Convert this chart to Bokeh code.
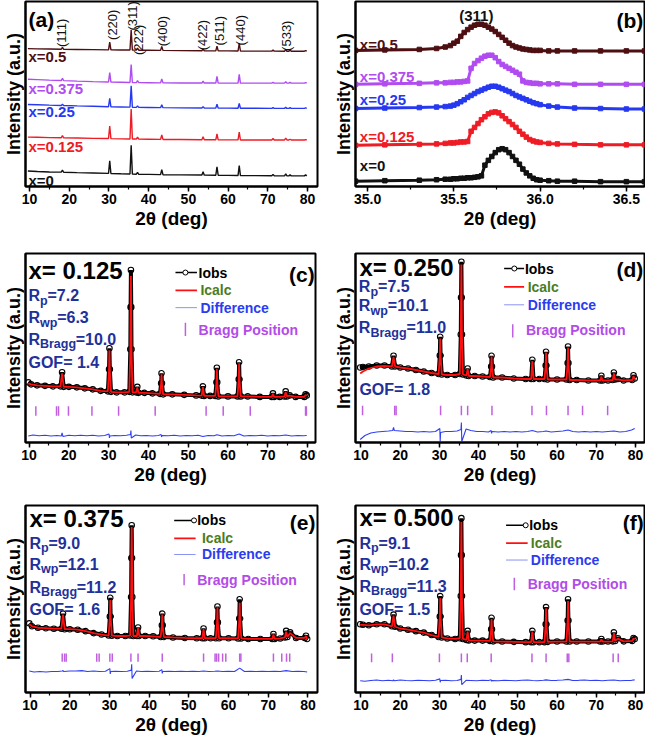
from bokeh.plotting import figure
from bokeh.layouts import column, row
from bokeh.models import SingleIntervalTicker, FixedTicker, Range1d, PrintfTickFormatter
from bokeh.core.properties import value
from bokeh.embed import file_html
from bokeh.resources import INLINE

FONT = "Liberation Sans"

# ---------------- panel (a): stacked XRD patterns ----------------
xa_deg = [9.6, 12, 15, 18.0, 18.3, 18.6, 22, 26, 29.9, 30.2, 30.5, 33, 35.3, 35.6, 35.9,
          36.9, 37.2, 37.5, 40, 43.0, 43.3, 43.6, 48, 53.4, 53.7, 54.0, 56.9, 57.2, 57.5,
          60, 62.5, 62.8, 63.1, 67, 71.0, 71.3, 71.6, 74.2, 74.5, 74.8, 75.3, 75.6, 75.9,
          79.2, 79.5, 79.8]
a_x0 = [16, 15.5, 15, 14.8, 16.8, 14.7, 14.3, 13.9, 13.5, 26.5, 13.4, 13.1, 12.9, 42.5, 12.8,
        12.7, 14.5, 12.6, 12.5, 12.3, 17.5, 12.2, 12, 11.8, 15.3, 11.7, 11.6, 20.2, 11.6,
        11.5, 11.4, 21.5, 11.3, 11.2, 11.1, 12.5, 11.1, 11, 13, 11, 11, 12, 11,
        11, 12, 11]
a_x125 = [51, 50.8, 50.5, 50.3, 52.5, 50.2, 50, 49.7, 49.5, 62.5, 49.4, 49.2, 49.1, 80, 49,
          49, 51, 48.9, 48.8, 48.7, 53.2, 48.6, 48.5, 48.3, 51.3, 48.3, 48.2, 54.2, 48.2,
          48.1, 48.1, 56.1, 48, 48, 48, 49.5, 48, 48, 50, 48, 48, 48.8, 48,
          48, 48.5, 48]
a_x25 = [84.7, 84.4, 84, 83.7, 84.8, 83.6, 83.2, 82.8, 82.4, 90.9, 82.3, 82.1, 81.9, 103.9, 81.8,
         81.7, 83.2, 81.7, 81.6, 81.4, 84.4, 81.4, 81.2, 81, 82.5, 81, 80.9, 84.9, 80.9,
         80.9, 80.8, 85.8, 80.8, 80.8, 80.7, 81.5, 80.7, 80.7, 81.7, 80.7, 80.7, 81.3, 80.7,
         80.7, 81.2, 80.7]
a_x375 = [110.7, 110.3, 109.8, 109.4, 111.6, 109.3, 108.8, 108.3, 107.9, 117.5, 107.8, 107.6, 107.4, 125.8, 107.3,
          107.2, 109.2, 107.2, 107.1, 107, 111, 107, 106.9, 106.8, 108.8, 106.8, 106.8, 113.6, 106.8,
          106.7, 106.7, 115.7, 106.7, 106.7, 106.7, 107.7, 106.7, 106.7, 108.2, 106.7, 106.7, 107.5, 106.7,
          106.7, 107.3, 106.7]
a_x5 = [142.3, 142.1, 141.9, 141.7, 143.7, 141.6, 141.5, 141.3, 141.1, 149, 141.1, 141, 140.9, 161.5, 140.8,
        140.8, 142.8, 140.7, 140.6, 140.5, 144.5, 140.5, 140.3, 140.1, 142.1, 140.1, 140, 145, 140,
        140, 139.9, 147.9, 139.9, 139.8, 139.8, 140.8, 139.8, 139.7, 141.2, 139.7, 139.7, 140.5, 139.7,
        139.7, 140.3, 139.7]
series_names = ["x=0", "x=0.125", "x=0.25", "x=0.375", "x=0.5"]
series_colors = ["#111111", "#ee1c25", "#2639f0", "#b04cf0", "#4d0f12"]
hkl_labels = ["(111)", "(220)", "(311)", "(222)", "(400)", "(422)", "(511)", "(440)", "(533)"]
hkl_deg = [18.1, 31.0, 35.9, 37.4, 43.6, 53.6, 57.8, 63.0, 74.8]

# ---------------- panel (b): (311) peak zoom ----------------
xb_deg = [34.93, 35.1, 35.3, 35.4, 35.45, 35.48, 35.5, 35.52, 35.54, 35.56, 35.58, 35.60, 35.62,
          35.64, 35.66, 35.68, 35.70, 35.72, 35.74, 35.76, 35.78, 35.80, 35.82, 35.84, 35.86,
          35.88, 35.90, 35.92, 35.94, 35.96, 35.98, 36.0, 36.05, 36.1, 36.2, 36.35, 36.5, 36.605]
b_x0 = [5.5, 6, 6.5, 7, 7.5, 7.5, 8, 8, 8.5, 8.5, 9, 9, 9.5,
        10, 11, 22, 27, 31, 35, 38, 39, 38, 35, 31, 27,
        23, 18, 14, 11, 8.5, 7, 6.5, 6, 5.5, 5.5, 5, 5, 5]
b_x125 = [42.5, 43, 43.5, 44, 44.5, 45, 45, 45.5, 46, 46, 46.5, 57, 61,
          65, 69, 72, 75, 76.5, 77, 76, 73, 70, 67, 64, 61,
          57, 54, 51, 48.5, 47, 46, 45.5, 44.5, 44, 43.5, 43, 43, 43]
b_x25 = [80.5, 81, 81.5, 82, 82.5, 83, 84, 85.5, 87.5, 89.5, 92, 94, 96,
         98, 99.5, 101, 102.5, 103.5, 103.5, 102.5, 101, 99.5, 98, 96, 94,
         92.5, 91, 89.5, 88, 86.5, 85.5, 84.5, 83, 82, 81, 80.5, 80, 80]
b_x375 = [105.5, 106, 106.5, 107, 107, 107.5, 107.5, 108, 108, 108.5, 109, 122, 127,
          130, 132.5, 134.5, 135.5, 135.5, 133, 129, 126, 124, 122, 120, 118,
          116, 109, 107.5, 107, 106.5, 106.5, 106, 106, 106, 105.5, 105.5, 105.5, 105.5]
b_x5 = [140.5, 141, 141.5, 142.5, 144, 145.5, 148, 150, 155, 159, 162, 164.5, 166.5,
        167.5, 167.5, 166.5, 164.5, 162.5, 160, 157, 154, 151, 148, 145.5, 144,
        143, 142, 141.5, 141, 140.5, 140.5, 140.5, 140, 140, 140, 140, 140, 140]

# ---------------- panels (c)-(f): Rietveld refinements ----------------
xr_deg = [9.8, 10.5, 12, 14, 16,
          17.9, 18.3, 18.7, 20, 22, 24, 26, 28,
          29.8, 30.1, 30.2, 30.3, 30.6, 32, 34,
          35.2, 35.45, 35.52, 35.6, 35.68, 35.75, 36.0,
          36.9, 37.2, 37.5, 39, 41,
          42.9, 43.2, 43.3, 43.4, 43.7, 46, 49, 52,
          53.4, 53.7, 54.0, 55.5,
          56.8, 57.1, 57.2, 57.3, 57.6, 60,
          62.4, 62.7, 62.8, 62.9, 63.2, 65, 68,
          71.0, 71.3, 71.6, 73,
          74.2, 74.5, 74.8, 75.5, 77,
          79.2, 79.5, 79.8]
c_obs = [60, 58, 57, 56.5, 56,
         56, 70, 55.5, 55.5, 55, 54, 53, 51.5,
         51, 73, 94, 73, 50.5, 50, 50,
         50.5, 93, 135, 172, 135, 93, 50,
         50, 55.5, 49.5, 49.5, 49,
         48.5, 59, 69, 59, 48, 48, 47.5, 47,
         46.8, 56, 46.5, 46.5,
         46.5, 60, 74.5, 60, 46, 46,
         46, 63, 80, 63, 46, 46, 45.5,
         45.5, 49, 45.5, 45.5,
         46, 51, 46, 47, 45.5,
         45.5, 48, 47]
c_calc = [59, 58, 57, 56.5, 56,
          56, 69, 55.5, 55.5, 55, 54, 53, 51.5,
          51, 72, 92, 72, 50.5, 50, 50,
          50.5, 91, 131, 166, 131, 91, 50,
          50, 55, 49.5, 49.5, 49,
          48.5, 58.5, 68, 58.5, 48, 48, 47.5, 47,
          46.8, 55.5, 46.5, 46.5,
          46.5, 59.5, 73.5, 59.5, 46, 46,
          46, 62.5, 79, 62.5, 46, 46, 45.5,
          45.5, 48.5, 45.5, 45.5,
          46, 50.5, 46, 46.8, 45.5,
          45.5, 47.5, 46.5]
d_obs = [75, 75.5, 76, 77, 77,
         76, 86.7, 76, 75, 74, 72.5, 71, 69.5,
         68.5, 87, 105.7, 87, 68, 67.5, 67.5,
         68.5, 108, 145, 180.7, 145, 108, 68,
         67, 74, 66.5, 66.5, 66,
         65.5, 76, 86.7, 76, 65, 65, 64, 63.5,
         63.5, 82.7, 63.5, 63.5,
         63.5, 77, 90.7, 77, 63, 63,
         63, 79.5, 96, 79.5, 62.5, 62.5, 62,
         62, 66.7, 62, 62,
         62.5, 70, 63, 63.5, 62,
         62.5, 67.3, 64]
d_calc = [69, 71, 74, 76, 76.5,
          76, 85.5, 76, 75, 74, 72.5, 71, 69.5,
          68.5, 86, 104, 86, 68, 67.5, 67.5,
          68.5, 107, 143, 178, 143, 107, 68,
          67, 73.5, 66.5, 66.5, 66,
          65.5, 75.5, 86, 75.5, 65, 65, 64, 63.5,
          63.5, 81.5, 63.5, 63.5,
          63.5, 76.5, 90, 76.5, 63, 63,
          63, 79, 95, 79, 62.5, 62.5, 62,
          62, 66, 62, 62,
          62.5, 69, 63, 63.2, 62,
          62.5, 66.5, 63.5]
e_obs = [71, 68, 66.5, 66, 65.5,
         65.5, 81, 65, 65, 64.5, 63, 61, 59.5,
         58.5, 78, 97.3, 78, 58.3, 58, 58,
         58.5, 98, 138, 171.7, 138, 98, 58,
         58, 66.7, 58, 58, 57.7,
         57, 69, 81, 69, 57, 56.5, 56, 55.7,
         55.7, 65.7, 55.7, 55.7,
         55.7, 72, 88.3, 72, 55.7, 55.7,
         55.5, 76, 95.7, 76, 55.5, 55, 55,
         55, 60, 55, 55.5,
         56.5, 63.3, 57, 61.7, 56,
         56, 58.3, 55]
e_calc = [70, 68, 66.5, 66, 65.5,
          65.5, 80, 65, 65, 64.5, 63, 61, 59.5,
          58.5, 77, 95, 77, 58.3, 58, 58,
          58.5, 97, 137, 170, 137, 97, 58,
          58, 66, 58, 58, 57.7,
          57, 68.5, 80, 68.5, 57, 56.5, 56, 55.7,
          55.7, 65, 55.7, 55.7,
          55.7, 71.5, 87.5, 71.5, 55.7, 55.7,
          55.5, 75, 92, 75, 55.5, 55, 55,
          55, 59.5, 55, 55.5,
          56.5, 62.5, 57, 61, 56,
          56, 58, 55]
f_obs = [70, 69.5, 69, 70, 70,
         68, 80, 67.5, 65.7, 64.5, 63, 61.5, 59,
         57, 78, 99, 78, 56.5, 55.5, 55,
         55.7, 99, 141, 179, 141, 99, 55,
         54, 63.3, 53.5, 53.3, 53.3,
         53, 65, 76.7, 65, 52.5, 52.3, 52, 51.7,
         51.7, 63.3, 51.7, 51.7,
         51.7, 70, 87.7, 70, 52, 52.3,
         52.3, 74, 95.7, 74, 52.3, 52.3, 52.3,
         52.3, 55, 52.3, 52.3,
         52.5, 61.7, 53, 55.7, 52.5,
         53, 56, 55]
f_calc = [69.5, 69.5, 69, 70, 70,
          68, 79, 67.5, 65.7, 64.5, 63, 61.5, 59,
          57, 77, 97, 77, 56.5, 55.5, 55,
          55.7, 98, 139, 175, 139, 98, 55,
          54, 62.5, 53.5, 53.3, 53.3,
          53, 64.5, 75.5, 64.5, 52.5, 52.3, 52, 51.7,
          51.7, 62.5, 51.7, 51.7,
          51.7, 69.5, 86.5, 69.5, 52, 52.3,
          52.3, 73.5, 94, 73.5, 52.3, 52.3, 52.3,
          52.3, 54.5, 52.3, 52.3,
          52.5, 61, 53, 55.3, 52.5,
          53, 55.5, 54.5]

xd_deg = [9.8, 11, 12.5, 14, 15.5, 17, 18.1, 18.3, 18.5, 20,
          21.5, 23, 24.5, 26, 27.5, 29, 30.1, 30.2, 30.3, 31.5,
          33, 34.5, 35.5, 35.6, 35.7, 36.8, 38, 39.5, 41, 42.5,
          43.2, 43.3, 43.4, 45, 46.5, 48, 49.5, 51, 52.5, 53.7,
          55, 56.5, 57.2, 58.5, 60, 61.5, 62.8, 64, 65.5, 67,
          68.5, 70, 71.5, 73, 74.5, 76, 77.5, 79, 79.8]
c_diff = [6.5, 7.5, 6.8, 7.2, 6.5, 7, 6.5, 9.5, 6, 7.2,
          6.8, 7.3, 6.8, 7.2, 6.5, 7, 8.5, 4.5, 6.5, 7,
          6.8, 7.2, 8, 12, 4.5, 7.5, 6.8, 7, 6.5, 7,
          8, 5.5, 7, 6.8, 7.2, 6.5, 7, 6.8, 7.2, 6,
          7, 6.8, 7.8, 6.5, 7, 6.8, 8.5, 6.5, 7, 6.8,
          7.2, 6.5, 7, 6.8, 7.5, 6.5, 7, 6.8, 7]
d_diff = [3, 7, 9.5, 10.5, 11, 11.5, 12, 15, 12, 11.5,
          11, 11, 10.5, 11, 10.5, 11, 14, 1, 10, 11,
          11, 11.5, 13, 20, 1, 13.5, 12, 11, 11, 10.5,
          12, 9, 11, 10.5, 11, 10.5, 11, 10.5, 11, 12,
          10.5, 11, 11.5, 10.5, 11, 11.5, 12.5, 11, 10.5, 11,
          10.5, 11, 10.5, 11, 11.5, 10.5, 11, 12.5, 14]
e_diff = [22, 21, 21.5, 21, 21.5, 21.5, 22, 22.5, 21.5, 22,
          22, 22.5, 21.5, 22, 21.5, 21.8, 24.5, 19, 21.5, 21.8,
          21.5, 21.8, 23, 29, 14.5, 22, 21.5, 21.8, 21.5, 21.8,
          23.5, 19.5, 21.5, 21.8, 21.5, 21.8, 21.5, 21.8, 21.5, 22,
          21.5, 21.8, 22, 21.5, 21.8, 21.5, 25, 21.5, 21.8, 21.5,
          21.8, 21.5, 21.8, 21.5, 22.5, 21.5, 21.8, 21.5, 21]
f_diff = [12, 11.5, 12.3, 12.8, 12, 12.5, 12, 13, 12, 12.8,
          12.3, 12, 12.5, 12.3, 12, 12.5, 14, 10.5, 12.3, 12.5,
          12, 12.3, 13.5, 18, 8, 12.5, 12.3, 12, 12.5, 12.3,
          13, 11.5, 12.3, 12, 12.5, 12.3, 12, 12.5, 12.8, 12.3,
          12, 12.5, 13, 12.3, 12.5, 12.8, 13.5, 12.3, 12.5, 12.8,
          12.3, 12.5, 12, 12.5, 12.8, 12, 12.3, 12.5, 13]

c_bragg = [11.7, 16.9, 17.4, 19.9, 25.8, 32.5, 41.7, 54.5, 58.8, 65.6, 79.5, 79.7]
d_bragg = [10.4, 18.6, 18.96, 30.3, 35.6, 37.2, 43.4, 53.6, 57.3, 62.8, 66.5, 72.9]
e_bragg = [18.1, 18.7, 19.1, 26.8, 27.4, 30.1, 30.7, 35.4, 37.2, 43.3, 53.7, 56.6, 57.0,
           57.5, 58.5, 59.3, 62.8, 63.1, 71.3, 73.4, 74.6, 75.4]
f_bragg = [12.7, 18.0, 30.0, 35.6, 37.1, 43.2, 53.6, 57.2, 62.6, 63.0, 74.3, 75.6]

c_stats = ["7.2", "6.3", "10.0", "GOF= 1.4"]
d_stats = ["7.5", "10.1", "11.0", "GOF= 1.8"]
e_stats = ["9.0", "12.1", "11.2", "GOF= 1.6"]
f_stats = ["9.1", "10.2", "11.3", "GOF= 1.5"]

NAVY = "#22309a"
OLIVE = "#4b7d1e"
DBLUE = "#2b3cf0"
VIOLET = "#b24be8"


def base_fig(w, h, bl, br, bt, bb, xr, yr, interval, fmt):
    p = figure(width=w, height=h, x_range=Range1d(xr[0], xr[1]), y_range=Range1d(yr[0], yr[1]),
               output_backend="svg", toolbar_location=None, tools="",
               min_border_left=bl, min_border_right=br, min_border_top=bt, min_border_bottom=bb)
    p.xgrid.visible = False
    p.ygrid.visible = False
    p.outline_line_color = "black"
    p.outline_line_width = 2
    p.background_fill_color = "white"
    p.border_fill_color = "white"
    xa = p.xaxis[0]
    xa.ticker = SingleIntervalTicker(interval=interval, num_minor_ticks=2)
    xa.formatter = PrintfTickFormatter(format=fmt)
    xa.axis_label = "2θ (deg)"
    xa.axis_label_text_font = FONT
    xa.axis_label_text_font_style = "bold"
    xa.axis_label_text_font_size = "19px"
    xa.axis_label_text_color = "black"
    xa.axis_label_standoff = 1
    xa.major_label_text_font = FONT
    xa.major_label_text_font_style = "bold"
    xa.major_label_text_font_size = "14px"
    xa.major_label_text_color = "black"
    xa.major_label_standoff = 2
    xa.axis_line_width = 2
    xa.major_tick_in = 0
    xa.major_tick_out = 5
    xa.minor_tick_in = 0
    xa.minor_tick_out = 3
    xa.major_tick_line_width = 1.5
    xa.minor_tick_line_width = 1.2
    ya = p.yaxis[0]
    ya.ticker = FixedTicker(ticks=[])
    ya.axis_label = "Intensity (a.u.)"
    ya.axis_label_text_font = FONT
    ya.axis_label_text_font_style = "bold"
    ya.axis_label_text_font_size = "18px"
    ya.axis_label_text_color = "black"
    ya.axis_label_standoff = 2
    ya.major_tick_line_color = None
    ya.minor_tick_line_color = None
    ya.major_label_text_font_size = "0px"
    ya.major_label_standoff = 0
    ya.axis_line_width = 2
    return p


def txt(p, x, y, s, size, color, align="left", baseline="middle", angle=0.0, style="bold"):
    p.text(x=[x], y=[y], text=[s], text_font=value(FONT), text_font_style=style,
           text_font_size=f"{size}px", text_color=color, text_align=align,
           text_baseline=baseline, angle=angle)


# ---------- (a) ----------
pa = base_fig(322, 242, 22, 5, 1, 56, (9.0, 82.5), (0, 191), 10, "%d")
a_series = [a_x0, a_x125, a_x25, a_x375, a_x5]
for ys, col in zip(a_series, series_colors):
    pa.line(xa_deg, ys, line_color=col, line_width=1.4)
a_lab_y = [5.7, 41.7, 77.3, 100.7, 134]
for name, col, yy in zip(series_names, series_colors, a_lab_y):
    txt(pa, 9.75, yy, name, 15, col)
hkl_bottom = [144, 151.3, 161, 135.7, 144.7, 140.7, 145.7, 145.7, 140]
for lab, xx, yb in zip(hkl_labels, hkl_deg, hkl_bottom):
    txt(pa, xx, yb, lab, 13, "#111111", align="left", baseline="middle", angle=1.5708, style="normal")
txt(pa, 9.75, 172.3, "(a)", 21, "black")

# ---------- (b) ----------
pb = base_fig(323, 242, 33, 1, 1, 56, (34.93, 36.605), (0, 191), 0.5, "%.1f")
b_series = [b_x0, b_x125, b_x25, b_x375, b_x5]
for ys, col in zip(b_series, series_colors):
    pb.line(xb_deg, ys, line_color=col, line_width=3)
    pb.scatter(xb_deg, ys, marker="square", size=4.5, line_color=col, fill_color=col)
b_lab_y = [21.3, 51.3, 89.7, 114, 146.7]
for name, col, yy in zip(series_names, series_colors, b_lab_y):
    txt(pb, 34.955, yy, name, 15, col)
txt(pb, 35.63, 177, "(311)", 15, "#111111", align="center")
txt(pb, 36.598, 171, "(b)", 21, "black", align="right")


def rietveld(p, xr, ppd, obs, calc, diff, bragg, b_lo, b_hi, title, tag, stats_x, stats_y,
             stats_vals, gof_x, leg):
    p.line(xr_deg, obs, line_color="black", line_width=4)
    p.scatter(xr_deg, obs, marker="circle", size=5.5, line_color="black", fill_alpha=0,
              line_width=1.1)
    p.line(xr_deg, calc, line_color="#ff1010", line_width=1.8)
    p.line(xd_deg, diff, line_color="#2f3ff5", line_width=1.1)
    p.segment(x0=bragg, y0=[b_lo] * len(bragg), x1=bragg, y1=[b_hi] * len(bragg),
              line_color="#c060e0", line_width=1.5)
    txt(p, title[0], title[1], title[2], 24, "black")
    txt(p, tag[0], tag[1], tag[2], 21, "black", align="right")
    subs = ["p", "wp", "Bragg"]
    wsub = [7.6, 17.4, 36.1]
    for yy, sub, w, v in zip(stats_y[:3], subs, wsub, stats_vals[:3]):
        txt(p, stats_x, yy, "R", 16, NAVY)
        xs = stats_x + 11.6 / ppd
        txt(p, xs, yy - 5, sub, 12.5, NAVY)
        txt(p, xs + w / ppd, yy, "=" + v, 16, NAVY)
    txt(p, gof_x, stats_y[3], stats_vals[3], 16, NAVY)
    lx0, lx1, cx, ly, tx1, tx2, bx, by0, by1, bty, btx = leg
    p.line([lx0, lx1], [ly[0], ly[0]], line_color="black", line_width=1.5)
    p.scatter([cx], [ly[0]], marker="circle", size=5, line_color="black", fill_color="white")
    txt(p, tx1, ly[0], "Iobs", 14, "black")
    p.line([lx0, lx1], [ly[1], ly[1]], line_color="#ff1010", line_width=1.8)
    txt(p, tx2, ly[1], "Icalc", 14, OLIVE)
    p.line([lx0, lx1], [ly[2], ly[2]], line_color="#8a93f0", line_width=1)
    txt(p, tx2, ly[2], "Difference", 14, DBLUE)
    p.segment(x0=[bx], y0=[by0], x1=[bx], y1=[by1], line_color="#c060e0", line_width=1.5)
    txt(p, btx, bty, "Bragg Position", 14, VIOLET)


def ppd_of(w, bl, br, xr):
    return (w - bl - br) / (xr[1] - xr[0])


# ---------- (c) ----------
xr_c = (9.1, 82.0)
pc = base_fig(322, 250, 22, 7, 11, 50, xr_c, (0, 188.5), 10, "%d")
rietveld(pc, xr_c, ppd_of(322, 22, 7, xr_c), c_obs, c_calc, c_diff, c_bragg, 26.8, 36.2,
         (9.85, 171.5, "x= 0.125"), (81.8, 167.5, "(c)"), 9.85, [146.5, 124.5, 102.8, 79.5],
         c_stats, 9.85,
         (46.8, 52.2, 49.3, (169.5, 151.8, 134.5), 52.6, 53.06, 49.3, 106.2, 119.5, 111.8, 52.6))

# ---------- (d) ----------
xr_d = (8.6, 82.3)
pd_ = base_fig(323, 250, 33, 1, 11, 50, xr_d, (0, 189), 10, "%d")
rietveld(pd_, xr_d, ppd_of(323, 33, 1, xr_d), d_obs, d_calc, d_diff, d_bragg, 27.3, 36.7,
         (9.6, 175, "x= 0.250"), (82.0, 173.3, "(d)"), 9.45, [156, 136.7, 115, 53.3],
         d_stats, 9.6,
         (46.5, 51.6, 49.1, (174, 155.7, 137.7), 51.8, 52.5, 48.7, 105, 118.3, 112.7, 52.05))

# ---------- (e) ----------
xr_e = (8.85, 82.4)
pe = base_fig(322, 245, 22, 5, 13, 40, xr_e, (0, 192), 10, "%d")
rietveld(pe, xr_e, ppd_of(322, 22, 5, xr_e), e_obs, e_calc, e_diff, e_bragg, 31.7, 40,
         (9.85, 179, "x= 0.375"), (81.9, 175, "(e)"), 9.85, [153.3, 131.7, 108.3, 85],
         e_stats, 9.85,
         (46.3, 51.7, 51.3, (176.7, 158.3, 141.7), 52.1, 53.3, 48.8, 110, 121.7, 115.7, 52.1))

# ---------- (f) ----------
xr_f = (8.6, 82.3)
pf = base_fig(323, 245, 33, 1, 13, 40, xr_f, (0, 192), 10, "%d")
rietveld(pf, xr_f, ppd_of(323, 33, 1, xr_f), f_obs, f_calc, f_diff, f_bragg, 31, 40,
         (9.6, 180, "x= 0.500"), (82.1, 175, "(f)"), 9.6, [153.3, 131.7, 109, 85],
         f_stats, 9.6,
         (47.0, 52.5, 52.0, (171.7, 153.3, 136), 52.9, 53.3, 49.1, 105, 117.7, 111, 52.5))

layout = column(row(pa, pb, spacing=0), row(pc, pd_, spacing=0), row(pe, pf, spacing=0), spacing=0)
open("out.html", "w").write(file_html(layout, INLINE))
